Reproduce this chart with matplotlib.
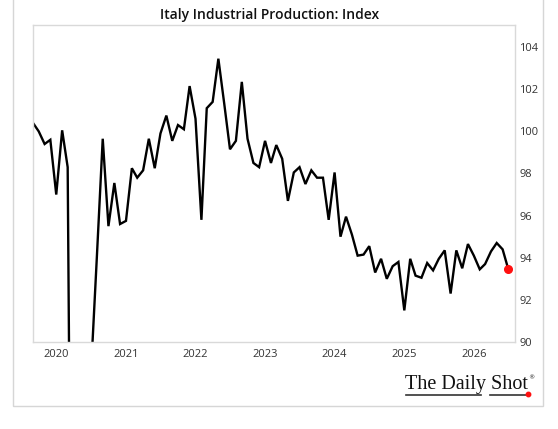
import matplotlib
matplotlib.use("Agg")
import matplotlib.pyplot as plt
import matplotlib.dates as mdates
from matplotlib.patches import Rectangle
import pandas as pd

# monthly index, Sep 2019 .. Jul 2026 (values below 90 are clipped by the axis)
start_month = "2019-09-01"
values = [
    100.4, 100.0, 99.4, 99.6, 97.0, 100.05, 98.3, 61.0, 56.0, 76.0,
    88.5, 94.0, 99.65, 95.5, 97.55, 95.6, 95.75, 98.25, 97.8, 98.15,
    99.65, 98.25, 99.9, 100.75, 99.55, 100.3, 100.1, 102.15, 100.6, 95.8,
    101.1, 101.4, 103.45, 101.3, 99.15, 99.55, 102.35, 99.65, 98.5, 98.3,
    99.55, 98.5, 99.35, 98.7, 96.7, 98.05, 98.3, 97.5, 98.15, 97.8,
    97.8, 95.8, 98.05, 95.0, 95.95, 95.1, 94.1, 94.15, 94.55, 93.3,
    93.95, 93.0, 93.6, 93.8, 91.5, 93.95, 93.15, 93.05, 93.75, 93.4,
    93.95, 94.35, 92.3, 94.35, 93.5, 94.65, 94.1, 93.45, 93.7, 94.3,
    94.7, 94.4, 93.45,
]
dates = pd.date_range(start_month, periods=len(values), freq="MS")

y_ticks = [90, 92, 94, 96, 98, 100, 102, 104]
title = "Italy Industrial Production: Index"

W, H = 558, 429
fig = plt.figure(figsize=(W / 100, H / 100), dpi=100)

# outer light frame (top edge runs off the image)
fig.patches.append(Rectangle((13 / W, (H - 406) / H), (543 - 13) / W, 406 / H + 0.02,
                             transform=fig.transFigure, fill=False,
                             edgecolor="#d6d6d6", linewidth=1.0, clip_on=False))

# plot box in pixels: left 33, right 515, top 25, bottom 342
ax = fig.add_axes([33 / W, (H - 342) / H, (515 - 33) / W, (342 - 25) / H])
ax.plot(dates, values, color="black", linewidth=1.7, solid_joinstyle="miter")
ax.plot(dates[-1], values[-1], "o", color="#ff1010", markersize=5.5, zorder=5)

ax.set_ylim(90, 105.05)
ax.set_xlim(dates[0], pd.Timestamp("2026-08-05"))
ax.set_yticks(y_ticks)
ax.yaxis.tick_right()
ax.xaxis.set_major_locator(mdates.YearLocator())
ax.xaxis.set_major_formatter(mdates.DateFormatter("%Y"))
ax.tick_params(axis="both", length=0, labelsize=8, labelcolor="#333333")
ax.tick_params(axis="y", pad=3)
ax.tick_params(axis="x", pad=5)
for lab in ax.get_xticklabels() + ax.get_yticklabels():
    lab.set_fontfamily("Open Sans")
for sp in ax.spines.values():
    sp.set_color("#d9d9d9")
    sp.set_linewidth(1.0)

fig.text(270 / W, 1 - 15 / H, title, ha="center", va="center",
         fontsize=10, fontweight="semibold", family="Open Sans", color="#111111")

# The Daily Shot mark
fig.text(466 / W, 1 - 385 / H, "The Daily Shot", ha="center", va="center",
         fontsize=14.5, family="Liberation Serif", color="#111111")
fig.text(531 / W, 1 - 378 / H, "®", ha="center", va="center",
         fontsize=4.5, family="DejaVu Sans", color="#222222")
# underline broken by the descender of "y"
for x0, x1 in [(406, 481), (490, 526)]:
    fig.add_artist(plt.Line2D([x0 / W, x1 / W], [1 - 394.5 / H, 1 - 394.5 / H],
                              transform=fig.transFigure, color="#333333", linewidth=1.2))
fig.add_artist(plt.Line2D([528 / W], [1 - 394 / H], transform=fig.transFigure,
                          marker="o", markersize=3.2, color="#ff1010"))

fig.savefig("out.png", dpi=100)
